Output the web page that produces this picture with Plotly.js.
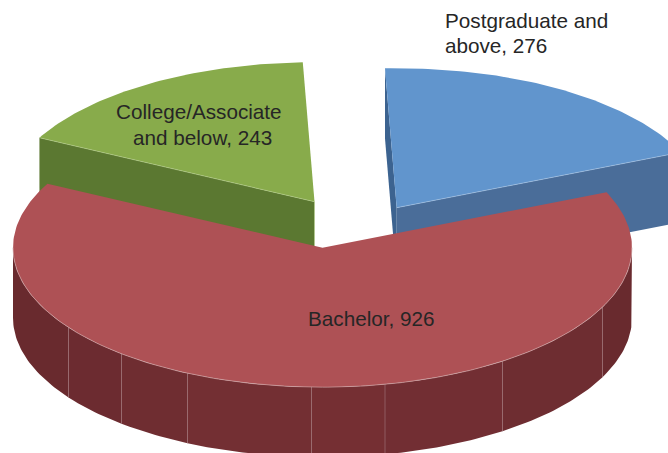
<!DOCTYPE html>
<html>
<head>
<meta charset="utf-8">
<script src="https://cdn.plot.ly/plotly-3.0.1.min.js"></script>
<style>html,body{margin:0;padding:0;background:#fff}#chart{width:668px;height:453px}</style>
</head>
<body>
<div id="chart"></div>
<script>
// Data
const categories = ["Postgraduate and above", "Bachelor", "College/Associate and below"];
const values = [276, 926, 243];
const labelLines = [["Postgraduate and", "above"], ["Bachelor"], ["College/Associate", "and below"]];

// Styles
const topColors = ["#6195CD", "#AE5155", "#88AB4B"];
const edgeColors = ["#A9C6E6", "#CFA3A5", "#B5CE8C"];
const sideColors = ["#4A6D99", "#6A2A2E", "#5B7831"];
const sliverColor = "#3C6390";
const seamColor = "#9C6F72";
const textColor = "#262626";
const wallShades = ["#692A2E", "#6C2B30", "#6F2D31", "#732F33", "#752F33", "#722E33", "#6E2D31", "#692A2E"];

// Projection of the tilted pie (page pixels on hidden axes)
const RX = 309.5, RY = 139.5, DEPTH = 70, FIRST_ANGLE = -2.17;
const apexX = [396.7, 322.5, 314.5];
const apexY = [207.7, 247.7, 201.7];
const seamX = [68.5, 121.5, 187.5, 311.5, 385, 502.5, 602.5];

const total = values.reduce((a, b) => a + b, 0);
const rad = d => d * Math.PI / 180;
const px = (i, deg) => apexX[i] + RX * Math.sin(rad(deg));
const py = (i, deg) => apexY[i] - RY * Math.cos(rad(deg));
function arc(i, a, b) {
  const n = Math.max(2, Math.ceil(Math.abs(b - a) / 1));
  const xs = [], ys = [];
  for (let k = 0; k <= n; k++) {
    const d = a + (b - a) * k / n;
    xs.push(px(i, d)); ys.push(py(i, d));
  }
  return [xs, ys];
}
const fill = (x, y, color) => ({
  type: "scatter", mode: "lines", x, y, fill: "toself", fillcolor: color,
  line: {width: 0, color}, hoverinfo: "skip", showlegend: false
});
const stroke = (x, y, color, width) => ({
  type: "scatter", mode: "lines", x, y, line: {color, width}, hoverinfo: "skip", showlegend: false
});

// Slice angles from the values
const starts = [], ends = [];
let acc = FIRST_ANGLE;
values.forEach(v => { starts.push(acc); acc += v / total * 360; ends.push(acc); });

function topFace(i) {
  const [ax, ay] = arc(i, starts[i], ends[i]);
  return fill([apexX[i], ...ax, apexX[i]], [apexY[i], ...ay, apexY[i]], topColors[i]);
}
function cutFace(i, deg, color) {
  const x = px(i, deg), y = py(i, deg);
  return fill([apexX[i], x, x, apexX[i], apexX[i]],
              [apexY[i], y, y + DEPTH, apexY[i] + DEPTH, apexY[i]], color);
}

const traces = [];
// College (back left)
traces.push(cutFace(2, starts[2], sideColors[2]));
traces.push(topFace(2));
traces.push(stroke([px(2, starts[2]), apexX[2], apexX[2]], [py(2, starts[2]), apexY[2], apexY[2] + 46], edgeColors[2], 0.6));
// Postgraduate (back right)
traces.push(cutFace(0, starts[0], sliverColor));
traces.push(cutFace(0, ends[0], sideColors[0]));
traces.push(topFace(0));
traces.push(stroke([apexX[0], px(0, ends[0])], [apexY[0], py(0, ends[0])], edgeColors[0], 0.6));

// Bachelor outer wall, cut into panels at the seams
const seamAngle = x => 180 - Math.asin((x - apexX[1]) / RX) * 180 / Math.PI;
const panelAngles = [270, ...seamX.map(seamAngle), 90];
for (let k = 0; k < panelAngles.length - 1; k++) {
  const [tx, ty] = arc(1, panelAngles[k], panelAngles[k + 1]);
  const bx = tx.slice().reverse(), by = ty.slice().reverse().map(v => v + DEPTH);
  traces.push(fill([...tx, ...bx, tx[0]], [...ty, ...by, ty[0]], wallShades[k]));
}
seamX.forEach(x => {
  const d = seamAngle(x), y = py(1, d);
  traces.push(stroke([x, x], [y, y + DEPTH], seamColor, 0.7));
});
// Bachelor top
traces.push(topFace(1));
const [fx, fy] = arc(1, 90, 270);
traces.push(stroke(fx, fy, edgeColors[1], 0.7));

// Labels: one annotation per line
const labelPos = [
  {xs: [445, 445], ys: [20.5, 45.5], xanchor: "left"},
  {xs: [371], ys: [318], xanchor: "center"},
  {xs: [199, 202.5], ys: [111, 137], xanchor: "center"}
];
const annotations = [];
categories.forEach((c, i) => {
  labelLines[i].forEach((line, j) => {
    const isLast = j === labelLines[i].length - 1;
    annotations.push({
      xref: "x", yref: "y", x: labelPos[i].xs[j], y: labelPos[i].ys[j],
      xanchor: labelPos[i].xanchor, yanchor: "middle", showarrow: false,
      borderpad: 0, borderwidth: 0,
      text: isLast ? line + ", " + values[i] : line,
      font: {family: "Liberation Sans, Arial, sans-serif", size: 20.7, color: textColor}
    });
  });
});

Plotly.newPlot("chart", traces, {
  width: 668, height: 453,
  margin: {l: 0, r: 0, t: 0, b: 0, pad: 0},
  paper_bgcolor: "#fff", plot_bgcolor: "#fff",
  showlegend: false,
  xaxis: {range: [0, 668], visible: false, fixedrange: true},
  yaxis: {range: [453, 0], visible: false, fixedrange: true},
  annotations
}, {displayModeBar: false, staticPlot: true});
</script>
</body>
</html>
